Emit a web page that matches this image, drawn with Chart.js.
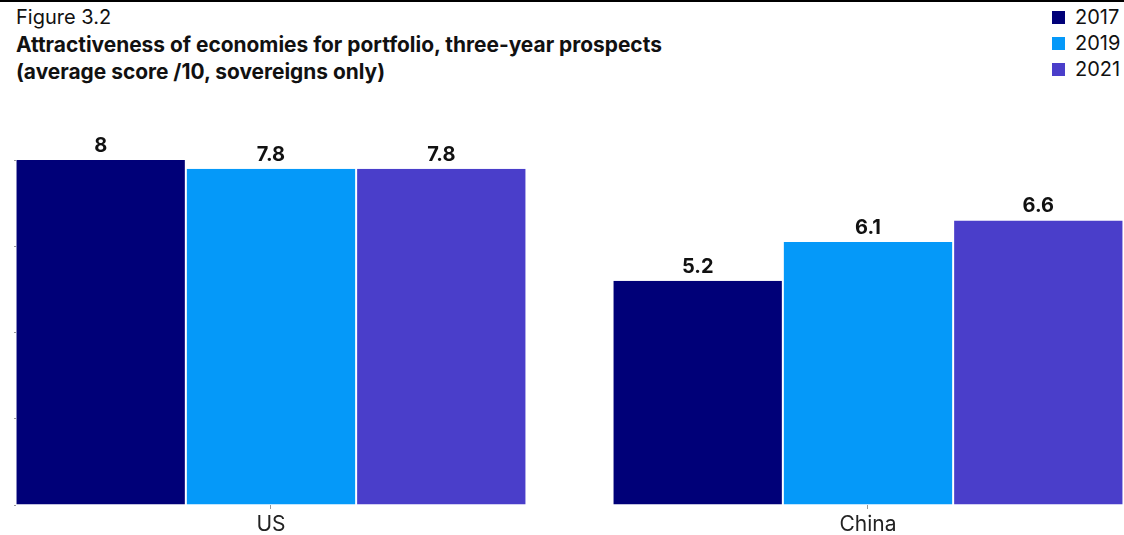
<!DOCTYPE html>
<html>
<head>
<meta charset="utf-8">
<script src="https://cdn.jsdelivr.net/npm/chart.js@4.4.1/dist/chart.umd.min.js"></script>
<style>
  html, body { margin: 0; padding: 0; background: #fff; }
  #wrap { position: relative; width: 1124px; height: 535px; overflow: hidden; font-family: Inter, "Noto Sans", sans-serif; color: #111; }
  #topline { position: absolute; left: 0; top: 0; width: 1124px; height: 2px; background: #000; }
  #title { position: absolute; left: 16px; top: 4px; line-height: 27px; }
  #title .fig { font-weight: 400; font-size: 20px; }
  #title .main { font-weight: 700; font-size: 20.9px; }
  #legend { position: absolute; left: 1052px; top: 4px; font-size: 20px; line-height: 26px; }
  #legend .item { display: flex; align-items: center; height: 26px; }
  #legend .sw { width: 13px; height: 13px; margin-right: 10px; }
  canvas { position: absolute; left: 0; top: 0; }
</style>
</head>
<body>
<div id="wrap">
  <div id="topline"></div>
  <div id="title">
    <div class="fig">Figure 3.2</div>
    <div class="main">Attractiveness of economies for portfolio, three-year prospects</div>
    <div class="main">(average score /10, sovereigns only)</div>
  </div>
  <div id="legend"></div>
  <canvas id="chart" width="1124" height="535" style="width:1124px;height:535px"></canvas>
</div>
<script>
// ---- data ----
const categories = ["US", "China"];
const seriesNames = ["2017", "2019", "2021"];
const values2017 = [8, 5.2];
const values2019 = [7.8, 6.1];
const values2021 = [7.8, 6.6];
const yTicks = [0, 2, 4, 6, 8];

// ---- styles ----
const colors = ["#000078", "#0599F9", "#4A3ECA"];
const seriesValues = [values2017, values2019, values2021];

// legend (HTML text)
const legendEl = document.getElementById("legend");
seriesNames.forEach((name, i) => {
  const item = document.createElement("div");
  item.className = "item";
  const sw = document.createElement("span");
  sw.className = "sw";
  sw.style.background = colors[i];
  const t = document.createElement("span");
  t.textContent = name;
  item.appendChild(sw);
  item.appendChild(t);
  legendEl.appendChild(item);
});

const datasets = seriesNames.map((name, i) => ({
  label: name,
  data: seriesValues[i].map((v, idx) => ({ x: idx, y: v })),
  backgroundColor: colors[i],
  borderColor: "#ffffff",
  borderWidth: { left: 1, right: 1, top: 0, bottom: 0 },
  borderSkipped: false,
  barThickness: 170.3,
  inflateAmount: 0
}));

const valueLabels = {
  id: "valueLabels",
  afterDatasetsDraw(chart) {
    const ctx = chart.ctx;
    ctx.save();
    ctx.font = "700 20px Inter, 'Noto Sans', sans-serif";
    ctx.fillStyle = "#111";
    ctx.textAlign = "center";
    ctx.textBaseline = "alphabetic";
    chart.data.datasets.forEach((ds, di) => {
      const meta = chart.getDatasetMeta(di);
      meta.data.forEach((el, idx) => {
        ctx.fillText(String(ds.data[idx].y), el.x, el.y - 8);
      });
    });
    ctx.restore();
  }
};

new Chart(document.getElementById("chart"), {
  type: "bar",
  data: { datasets },
  options: {
    responsive: false,
    animation: false,
    events: [],
    layout: { padding: { top: 160, left: 14, right: 0, bottom: -5 } },
    plugins: { legend: { display: false }, tooltip: { enabled: false } },
    scales: {
      x: {
        type: "linear",
        offset: false,
        min: -0.4271,
        max: 1.4288,
        border: { display: false },
        grid: { offset: false, drawOnChartArea: false, drawTicks: true, tickLength: 4, tickColor: "#999" },
        afterBuildTicks: (scale) => { scale.ticks = categories.map((c, i) => ({ value: i })); },
        ticks: {
          autoSkip: false,
          maxRotation: 0,
          padding: 5,
          color: "#222",
          font: { family: "Inter, 'Noto Sans', sans-serif", size: 21, lineHeight: 1.0 },
          callback: (v) => (categories[v] !== undefined ? categories[v] : "")
        }
      },
      y: {
        min: yTicks[0],
        max: yTicks[yTicks.length - 1],
        border: { display: false },
        grid: { drawOnChartArea: false, drawTicks: true, tickLength: 2, tickColor: "#999" },
        afterBuildTicks: (scale) => { scale.ticks = yTicks.map(v => ({ value: v })); },
        ticks: { display: false }
      }
    }
  },
  plugins: [valueLabels]
});
</script>
</body>
</html>
